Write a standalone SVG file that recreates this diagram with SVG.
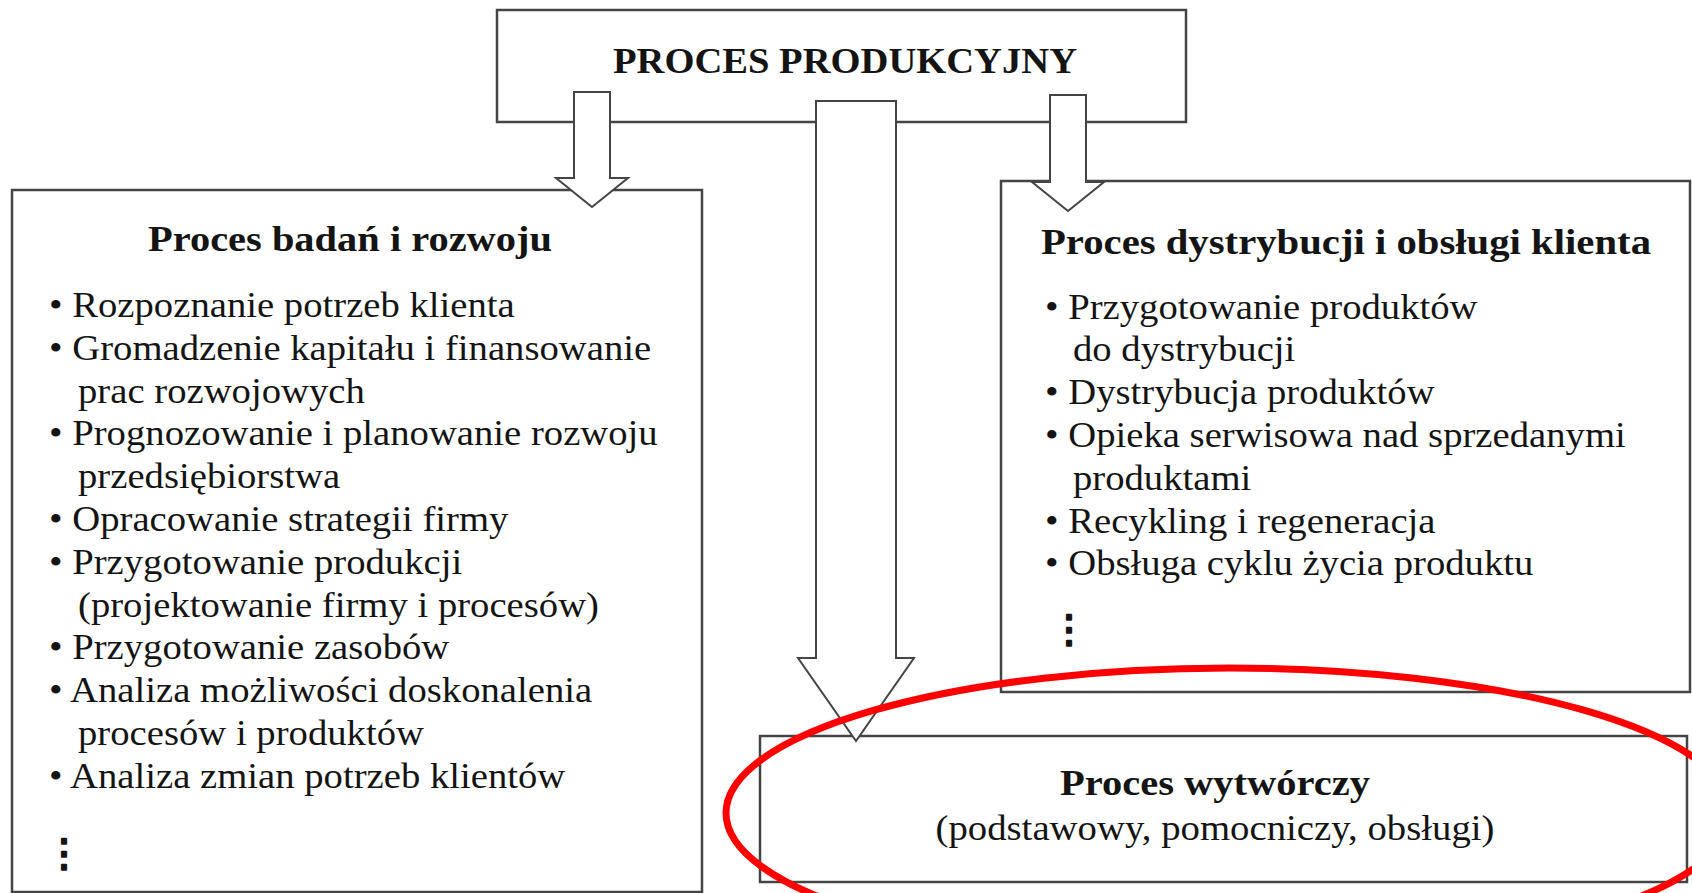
<svg xmlns="http://www.w3.org/2000/svg" width="1692" height="893" viewBox="0 0 1692 893">
<style>
.box{fill:#fff;stroke:#444;stroke-width:2.5}
.arr{fill:#fff;stroke:#444;stroke-width:2;stroke-linejoin:miter}
.t{font-family:"Liberation Serif","Times New Roman",serif;fill:#141414}
.b{font-weight:bold;font-size:35px;text-anchor:middle}
.r{font-size:36px}
.dots{font-family:"DejaVu Sans",sans-serif;font-size:38px;fill:#141414;stroke:#141414;stroke-width:2.2;stroke-linejoin:round;text-anchor:middle}
.ring{fill:none;stroke:#ff0000;stroke-width:7}
</style>
<rect width="1692" height="893" fill="#fff"/>
<g id="node-proces-produkcyjny">
<rect class="box" x="497" y="10" width="689" height="112"/>
<text class="t b" x="845" y="73" textLength="464" lengthAdjust="spacingAndGlyphs">PROCES PRODUKCYJNY</text>
</g>
<g id="node-badania-rozwoj">
<rect class="box" x="12" y="190" width="690" height="702"/>
<text class="t b" x="350" y="251" textLength="404" lengthAdjust="spacingAndGlyphs">Proces badań i rozwoju</text>
<g class="t r" transform="translate(49,0) scale(1.075,1)">
<text x="0" y="317">• Rozpoznanie potrzeb klienta</text>
<text x="0" y="360">• Gromadzenie kapitału i finansowanie</text>
<text x="27" y="402.6">prac rozwojowych</text>
<text x="0" y="445.4">• Prognozowanie i planowanie rozwoju</text>
<text x="27" y="488.2">przedsiębiorstwa</text>
<text x="0" y="531">• Opracowanie strategii firmy</text>
<text x="0" y="573.8">• Przygotowanie produkcji</text>
<text x="27" y="616.6">(projektowanie firmy i procesów)</text>
<text x="0" y="659.4">• Przygotowanie zasobów</text>
<text x="0" y="702.2">• Analiza możliwości doskonalenia</text>
<text x="27" y="745">procesów i produktów</text>
<text x="0" y="787.8">• Analiza zmian potrzeb klientów</text>
</g>
<text class="dots" x="64" y="866">⋮</text>
</g>
<g id="node-dystrybucja-obsluga">
<rect class="box" x="1001" y="181" width="689" height="511"/>
<text class="t b" x="1346" y="254" textLength="610" lengthAdjust="spacingAndGlyphs">Proces dystrybucji i obsługi klienta</text>
<g class="t r" transform="translate(1045,0) scale(1.075,1)">
<text x="0" y="318.6">• Przygotowanie produktów</text>
<text x="26" y="361.4">do dystrybucji</text>
<text x="0" y="404.2">• Dystrybucja produktów</text>
<text x="0" y="447">• Opieka serwisowa nad sprzedanymi</text>
<text x="26" y="489.8">produktami</text>
<text x="0" y="532.6">• Recykling i regeneracja</text>
<text x="0" y="575.4">• Obsługa cyklu życia produktu</text>
</g>
<text class="dots" x="1069" y="642">⋮</text>
</g>
<g id="node-proces-wytworczy">
<rect class="box" x="760" y="736" width="927" height="146"/>
<text class="t b" x="1215" y="795" textLength="310" lengthAdjust="spacingAndGlyphs">Proces wytwórczy</text>
<text class="t r" x="1215" y="840" text-anchor="middle" textLength="559" lengthAdjust="spacingAndGlyphs">(podstawowy, pomocniczy, obsługi)</text>
</g>
<g id="connectors">
<polygon class="arr" points="574,92 610,92 610,178 628,178 592,207 556,178 574,178"/>
<polygon class="arr" points="816,101 896,101 896,658 914,658 856,741 798,658 816,658"/>
<polygon class="arr" points="1050,95 1086,95 1086,182 1104,182 1068,211 1032,182 1050,182"/>
</g>
<g id="highlight">
<ellipse class="ring" cx="1229" cy="813" rx="503" ry="145"/>
</g>
</svg>
